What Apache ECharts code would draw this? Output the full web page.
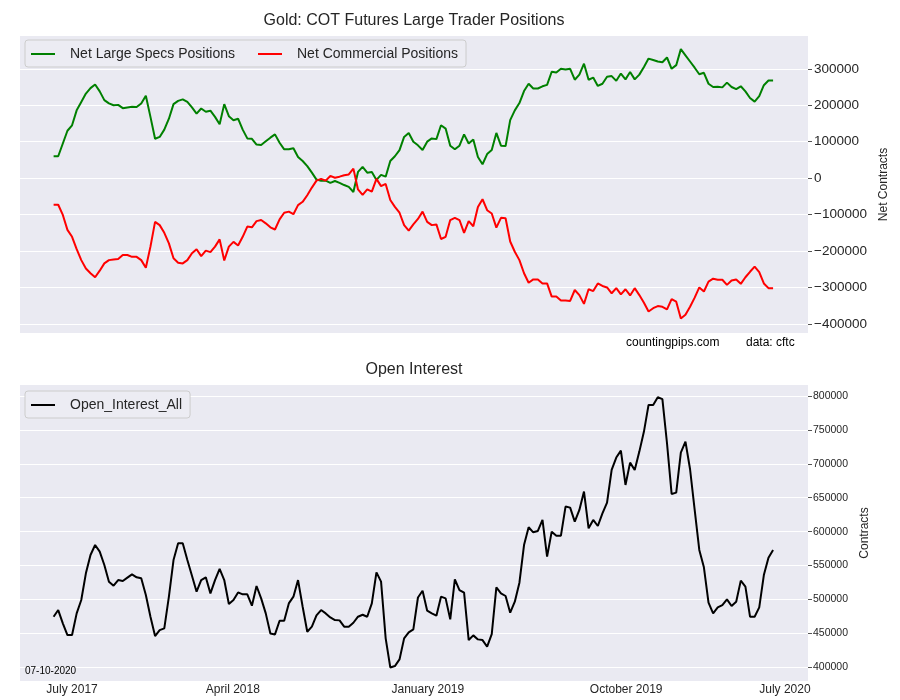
<!DOCTYPE html>
<html>
<head>
<meta charset="utf-8">
<script src="https://cdn.jsdelivr.net/npm/echarts@6/dist/echarts.min.js"></script>
<style>
html,body{margin:0;padding:0;background:#fff;}
#chart{width:900px;height:700px;}
</style>
</head>
<body>
<div id="chart"></div>
<script>
// Weekly COT report dates: first and last report
const firstReportDate = '2017-07-11';
const lastReportDate = '2020-07-07';

// Net Large Specs Positions (green)
const netLargeSpecs = [
  60000, 60000, 95000, 130000, 145000, 186000, 209000, 232000, 247000, 257000,
  238000, 214000, 205000, 200000, 201000, 192000, 194000, 196000, 195000, 205000,
  226000, 168000, 108000, 113000, 133000, 163000, 203000, 212000, 216000, 209000,
  194000, 177000, 191000, 182000, 185000, 168000, 148000, 203000, 170000, 159000,
  163000, 133000, 109000, 108000, 92000, 91000, 101000, 111000, 120000, 97000,
  79000, 79000, 82000, 58000, 47000, 33000, 15000, -4000, -7000, -7000,
  -13000, -8000, -13000, -19000, -24000, -38000, 17000, 31000, 15000, 17000,
  -5000, 9000, 4000, 47000, 60000, 77000, 113000, 124000, 100000, 90000,
  77000, 100000, 109000, 107000, 145000, 136000, 89000, 79000, 89000, 120000,
  95000, 106000, 58000, 38000, 66000, 77000, 124000, 89000, 88000, 159000,
  186000, 206000, 239000, 259000, 246000, 246000, 252000, 256000, 292000, 290000,
  300000, 298000, 300000, 270000, 284000, 314000, 270000, 276000, 253000, 259000,
  278000, 280000, 267000, 287000, 271000, 291000, 271000, 284000, 305000, 328000,
  324000, 320000, 318000, 331000, 300000, 310000, 354000, 337000, 320000, 303000,
  285000, 289000, 259000, 250000, 251000, 249000, 262000, 250000, 244000, 252000,
  238000, 220000, 210000, 225000, 255000, 268000, 268000
];

// Net Commercial Positions (red)
const netCommercial = [
  -73000, -73000, -101000, -142000, -161000, -195000, -225000, -248000, -261000, -272000,
  -254000, -234000, -225000, -223000, -222000, -211000, -211000, -216000, -216000, -225000,
  -246000, -188000, -120000, -129000, -150000, -179000, -220000, -232000, -234000, -225000,
  -206000, -195000, -214000, -199000, -203000, -188000, -168000, -226000, -188000, -175000,
  -185000, -161000, -133000, -135000, -118000, -115000, -124000, -135000, -141000, -113000,
  -95000, -92000, -99000, -74000, -65000, -47000, -26000, -7000, -2000, -7000,
  6000, 1000, 4000, 8000, 10000, 26000, -31000, -46000, -31000, -37000,
  -2000, -22000, -16000, -60000, -79000, -95000, -129000, -144000, -127000, -112000,
  -92000, -120000, -129000, -127000, -167000, -161000, -115000, -109000, -115000, -150000,
  -118000, -132000, -79000, -58000, -88000, -97000, -136000, -109000, -110000, -174000,
  -202000, -225000, -261000, -287000, -278000, -278000, -289000, -289000, -325000, -325000,
  -336000, -336000, -337000, -307000, -321000, -345000, -305000, -310000, -289000, -296000,
  -300000, -316000, -302000, -319000, -305000, -322000, -302000, -321000, -342000, -366000,
  -357000, -351000, -353000, -360000, -332000, -339000, -385000, -375000, -353000, -328000,
  -300000, -311000, -284000, -276000, -279000, -279000, -293000, -281000, -278000, -290000,
  -272000, -257000, -243000, -258000, -289000, -302000, -302000
];

// Open Interest (black)
const openInterest = [
  474700, 484500, 464900, 447700, 447700, 479600, 499300, 538600, 565600, 580300,
  570500, 550900, 526300, 520400, 528700, 527300, 532200, 537100, 532700, 531200,
  506600, 474700, 446200, 455000, 457500, 504200, 558200, 582800, 582800, 558200,
  535100, 511500, 528700, 532700, 509100, 528700, 545000, 528700, 493400, 499300,
  510500, 507600, 507600, 490900, 519900, 501700, 479600, 450100, 448600, 468800,
  468800, 494300, 504200, 528700, 489400, 452600, 460000, 476700, 484500, 479600,
  473700, 469800, 469300, 460000, 460000, 465800, 474700, 477600, 474700, 494300,
  540000, 526300, 442800, 400000, 402000, 411800, 442800, 451600, 456000, 503000,
  513000, 483500, 479600, 476200, 504200, 501700, 470800, 529700, 514000, 510100,
  440300, 447200, 441300, 440300, 430500, 449100, 517900, 509100, 505200, 480600,
  496800, 524800, 580300, 606400, 599000, 601000, 617200, 563100, 600000, 594100,
  594100, 636900, 635400, 614700, 631900, 659000, 604900, 617200, 608300, 627000,
  642700, 690900, 709100, 719400, 668800, 701700, 690900, 717900, 747400, 786700,
  786700, 798000, 795100, 730200, 655500, 657500, 716500, 732700, 691900, 632000,
  573000, 547400, 495300, 479600, 488500, 491900, 500200, 490400, 496800, 527800,
  518900, 474700, 474700, 488500, 536100, 561700, 573000
];

// X tick labels and the dates they sit at
const xTickLabels = ['July 2017', 'April 2018', 'January 2019', 'October 2019', 'July 2020'];
const xTickDates = ['2017-08-08', '2018-04-09', '2019-01-30', '2019-11-27', '2020-07-25'];

// Y tick values
const topYTicks = [-400000, -300000, -200000, -100000, 0, 100000, 200000, 300000];
const bottomYTicks = [400000, 450000, 500000, 550000, 600000, 650000, 700000, 750000, 800000];

const DAY = 86400000;
function ts(s) { const p = s.split('-'); return Date.UTC(+p[0], +p[1] - 1, +p[2]); }
const t0 = ts(firstReportDate);
const dates = netLargeSpecs.map((_, i) => t0 + i * 7 * DAY);
const xMin = t0 - 51 * DAY;
const xMax = ts(lastReportDate) + 53 * DAY;
const xTickTs = xTickDates.map(ts);

const pair = arr => arr.map((v, i) => [dates[i], v]);
const FONT = 'Liberation Sans, Arial, sans-serif';
const TXT = '#262626';
const fmtNum = v => (v < 0 ? '\u2212' + Math.abs(v) : String(v));

const chart = echarts.init(document.getElementById('chart'), null, {renderer: 'canvas'});

function xAxisBase(extra) {
  return Object.assign({
    type: 'value', min: xMin, max: xMax, scale: true,
    axisLine: {show: false}, axisTick: {show: false}, splitLine: {show: false}
  }, extra);
}

const legendBase = {
  orient: 'horizontal',
  icon: 'rect', itemWidth: 24, itemHeight: 2,
  padding: [7, 8, 6, 6],
  backgroundColor: '#ECECF3', borderColor: '#cccccc', borderWidth: 1, borderRadius: 3,
  textStyle: {fontSize: 14, color: TXT, fontFamily: FONT, padding: [0, 0, 0, 10]}
};

chart.setOption({
  animation: false,
  backgroundColor: '#ffffff',
  textStyle: {fontFamily: FONT},
  grid: [
    {left: 20, right: 92, top: 36, height: 297, show: true, backgroundColor: '#EAEAF2', borderWidth: 0},
    {left: 20, right: 92, top: 385, height: 296, show: true, backgroundColor: '#EAEAF2', borderWidth: 0}
  ],
  legend: [
    Object.assign({left: 25, top: 40, itemGap: 23,
      data: ['Net Large Specs Positions', 'Net Commercial Positions']}, legendBase),
    Object.assign({left: 25, top: 391, data: ['Open_Interest_All']}, legendBase)
  ],
  xAxis: [
    xAxisBase({gridIndex: 0, axisLabel: {show: false}}),
    xAxisBase({
      gridIndex: 1,
      axisLabel: {
        show: true, customValues: xTickTs, margin: 3,
        fontSize: 12, color: TXT, fontFamily: FONT,
        formatter: function (v) {
          const i = xTickTs.indexOf(+v);
          return i >= 0 ? xTickLabels[i] : '';
        }
      }
    })
  ],
  yAxis: [
    {
      gridIndex: 0, type: 'value', position: 'right',
      min: -425000, max: 390000, splitNumber: 8,
      name: 'Net Contracts', nameLocation: 'middle', nameRotate: 90, nameGap: 69,
      nameTextStyle: {fontSize: 12, color: TXT, fontFamily: FONT},
      axisLine: {show: false},
      axisTick: {show: true, customValues: topYTicks, length: 4, lineStyle: {color: '#555555'}},
      axisLabel: {customValues: topYTicks, margin: 6, fontSize: 13.5, color: TXT, fontFamily: FONT, formatter: fmtNum},
      splitLine: {show: true, lineStyle: {color: '#ffffff', width: 1}}
    },
    {
      gridIndex: 1, type: 'value', position: 'right',
      min: 380000, max: 816000, splitNumber: 9,
      name: 'Contracts', nameLocation: 'middle', nameRotate: 90, nameGap: 49,
      nameTextStyle: {fontSize: 12, color: TXT, fontFamily: FONT},
      axisLine: {show: false},
      axisTick: {show: true, customValues: bottomYTicks, length: 4, lineStyle: {color: '#555555'}},
      axisLabel: {customValues: bottomYTicks, margin: 5, fontSize: 10.5, color: TXT, fontFamily: FONT, formatter: fmtNum},
      splitLine: {show: true, lineStyle: {color: '#ffffff', width: 1}}
    }
  ],
  series: [
    {
      name: 'Net Large Specs Positions', type: 'line', xAxisIndex: 0, yAxisIndex: 0,
      data: pair(netLargeSpecs), symbol: 'none', color: '#008000',
      lineStyle: {width: 2, color: '#008000'}
    },
    {
      name: 'Net Commercial Positions', type: 'line', xAxisIndex: 0, yAxisIndex: 0,
      data: pair(netCommercial), symbol: 'none', color: '#ff0000',
      lineStyle: {width: 2, color: '#ff0000'}
    },
    {
      name: 'Open_Interest_All', type: 'line', xAxisIndex: 1, yAxisIndex: 1,
      data: pair(openInterest), symbol: 'none', color: '#000000',
      lineStyle: {width: 2, color: '#000000'}
    }
  ],
  graphic: [
    {type: 'text', x: 414, y: 21, style: {text: 'Gold: COT Futures Large Trader Positions', font: '16px ' + FONT, fill: TXT, textAlign: 'center', textVerticalAlign: 'middle'}},
    {type: 'text', x: 414, y: 370, style: {text: 'Open Interest', font: '16px ' + FONT, fill: TXT, textAlign: 'center', textVerticalAlign: 'middle'}},
    {type: 'text', x: 626, y: 343, style: {text: 'countingpips.com', font: '12px ' + FONT, fill: '#000000', textAlign: 'left', textVerticalAlign: 'middle'}},
    {type: 'text', x: 746, y: 343, style: {text: 'data: cftc', font: '12px ' + FONT, fill: '#000000', textAlign: 'left', textVerticalAlign: 'middle'}},
    {type: 'text', x: 25, y: 671, z: 10, style: {text: '07-10-2020', font: '10px ' + FONT, fill: '#000000', textAlign: 'left', textVerticalAlign: 'middle'}}
  ]
});
</script>
</body>
</html>
